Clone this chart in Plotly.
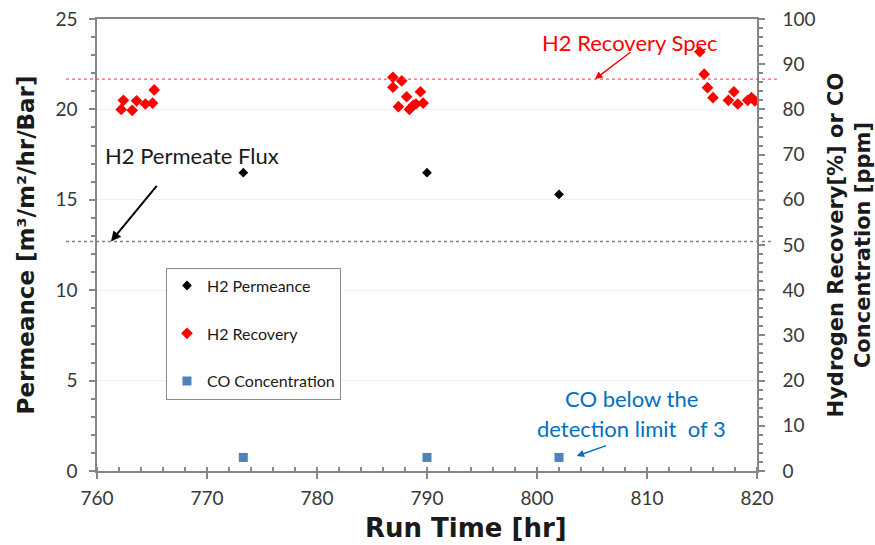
import plotly.graph_objects as go

# ---- data ----
perm_time = [773.3, 790.0, 802.0]
perm_value = [16.5, 16.5, 15.3]

rec_time = [762.2, 762.4, 763.2, 763.6, 764.4, 765.05, 765.2,
            786.9, 787.7, 786.9, 788.15, 789.4, 787.4, 788.4, 788.75, 789.65, 789.0,
            814.8, 815.2, 815.5, 816.0, 817.4, 817.9, 818.25, 819.15, 819.5, 819.8]
rec_value = [80.0, 82.0, 79.8, 81.9, 81.2, 81.4, 84.3,
             87.1, 86.3, 84.9, 82.8, 83.9, 80.6, 80.0, 80.9, 81.4, 81.2,
             92.75, 87.8, 84.8, 82.6, 82.0, 83.9, 81.2, 82.0, 82.6, 81.9]

co_time = [773.3, 790.0, 802.0]
co_value = [3, 3, 3]

recovery_spec = 86.7      # % (right axis)
permeate_flux = 12.7      # left axis

FONT = "Lato"
TFONT = "DejaVu Sans"
AX = "#868686"
TICKC = "#383838"
TITLEC = "#1a1a1a"

fig = go.Figure()
fig.add_trace(go.Scatter(x=perm_time, y=perm_value, mode="markers", name="H2 Permeance",
                         legendgroup="a",
                         marker=dict(symbol="diamond", size=7.5, color="black")))
fig.add_trace(go.Scatter(x=rec_time, y=rec_value, mode="markers", name="H2 Recovery",
                         legendgroup="b", yaxis="y2",
                         marker=dict(symbol="diamond", size=9, color="#ff0000")))
fig.add_trace(go.Scatter(x=co_time, y=co_value, mode="markers", name="CO Concentration",
                         legendgroup="c", yaxis="y2",
                         marker=dict(symbol="square", size=9, color="#4f81bd")))

shapes = [
    dict(type="line", xref="paper", x0=-0.047, x1=1.032, yref="y2", y0=recovery_spec, y1=recovery_spec,
         line=dict(color="#ff3030", width=1, dash="dot")),
    dict(type="line", xref="paper", x0=-0.047, x1=1.025, yref="y", y0=permeate_flux, y1=permeate_flux,
         line=dict(color="#808080", width=1.5, dash="dot")),
]

annotations = [
    dict(x=808.45, y=94.9, xref="x", yref="y2", text="H2 Recovery Spec", showarrow=False,
         font=dict(family=FONT, size=22, color="#ff0000")),
    dict(x=805.27, y=recovery_spec, xref="x", yref="y2", text="", showarrow=True,
         ax=37, ay=-28, arrowhead=2, arrowsize=1, arrowwidth=1.5, arrowcolor="#ff0000"),
    dict(x=760.55, y=17.46, xref="x", yref="y", text="H2 Permeate Flux", showarrow=False,
         xanchor="left", font=dict(family=FONT, size=22, color=TITLEC)),
    dict(x=761.27, y=permeate_flux, xref="x", yref="y", text="", showarrow=True,
         ax=47, ay=-57, arrowhead=2, arrowsize=1, arrowwidth=2, arrowcolor="black"),
    dict(x=808.6, y=(471 - 398) / 4.52, xref="x", yref="y2", text="CO below the", showarrow=False,
         font=dict(family=FONT, size=22, color="#0070c0")),
    dict(x=808.6, y=(471 - 428) / 4.52, xref="x", yref="y2", text="detection limit  of 3", showarrow=False,
         font=dict(family=FONT, size=22, color="#0070c0")),
    dict(x=803.6, y=3.3, xref="x", yref="y2", text="", showarrow=True,
         ax=31, ay=-11, arrowhead=2, arrowsize=1, arrowwidth=1.5, arrowcolor="#0070c0"),
    # x-axis title (offset to the right of centre as in the source)
    dict(x=0.559, y=-0.125, xref="paper", yref="paper", text="<b>Run Time [hr]</b>", showarrow=False,
         xanchor="center", yanchor="middle", font=dict(family=TFONT, size=26, color=TITLEC)),
]

fig.update_layout(
    width=875, height=545,
    margin=dict(l=97, r=118, t=19, b=74),
    paper_bgcolor="white", plot_bgcolor="white",
    font=dict(family=FONT, color=TICKC, size=19),
    showlegend=True,
    legend=dict(x=0.1045, y=0.45, xanchor="left", yanchor="top",
                bordercolor="#8c8c8c", borderwidth=1, bgcolor="white",
                font=dict(family=FONT, size=16, color=TITLEC),
                tracegroupgap=24),
    shapes=shapes,
    annotations=annotations,
    xaxis=dict(range=[760, 820], tick0=760, dtick=10, showline=True, linecolor=AX, linewidth=1.5,
               mirror=True, ticks="outside", ticklen=6, tickcolor=AX, tickwidth=1.5,
               minor=dict(dtick=2, ticks="inside", ticklen=4, tickcolor=AX),
               showgrid=False, zeroline=False, ticklabelstandoff=3, automargin=False,
               tickfont=dict(family=FONT, size=19, color=TICKC)),
    yaxis=dict(range=[0, 25], tick0=0, dtick=5, showline=True, linecolor=AX, linewidth=1.5,
               ticks="outside", ticklen=6, tickcolor=AX, tickwidth=1.5,
               minor=dict(dtick=1, ticks="outside", ticklen=4, tickcolor=AX),
               showgrid=True, gridcolor="#f0f0f0", zeroline=False, ticklabelstandoff=8,
               automargin=False,
               tickfont=dict(family=FONT, size=19, color=TICKC),
               title=dict(text="<b>Permeance [m³/m²/hr/Bar]</b>", standoff=14,
                          font=dict(family=TFONT, size=23, color=TITLEC))),
    yaxis2=dict(range=[0, 100], tick0=0, dtick=10, overlaying="y", side="right",
                showline=True, linecolor=AX, linewidth=1.5,
                ticks="outside", ticklen=6, tickcolor=AX, tickwidth=1.5,
                minor=dict(dtick=2, ticks="outside", ticklen=4, tickcolor=AX),
                showgrid=False, zeroline=False, ticklabelstandoff=14, automargin=False,
                tickfont=dict(family=FONT, size=19, color=TICKC),
                title=dict(text="<b>Hydrogen Recovery[%] or CO<br>Concentration [ppm]</b>", standoff=14,
                           font=dict(family=TFONT, size=21, color=TITLEC))),
)

fig.write_html("out.html")
